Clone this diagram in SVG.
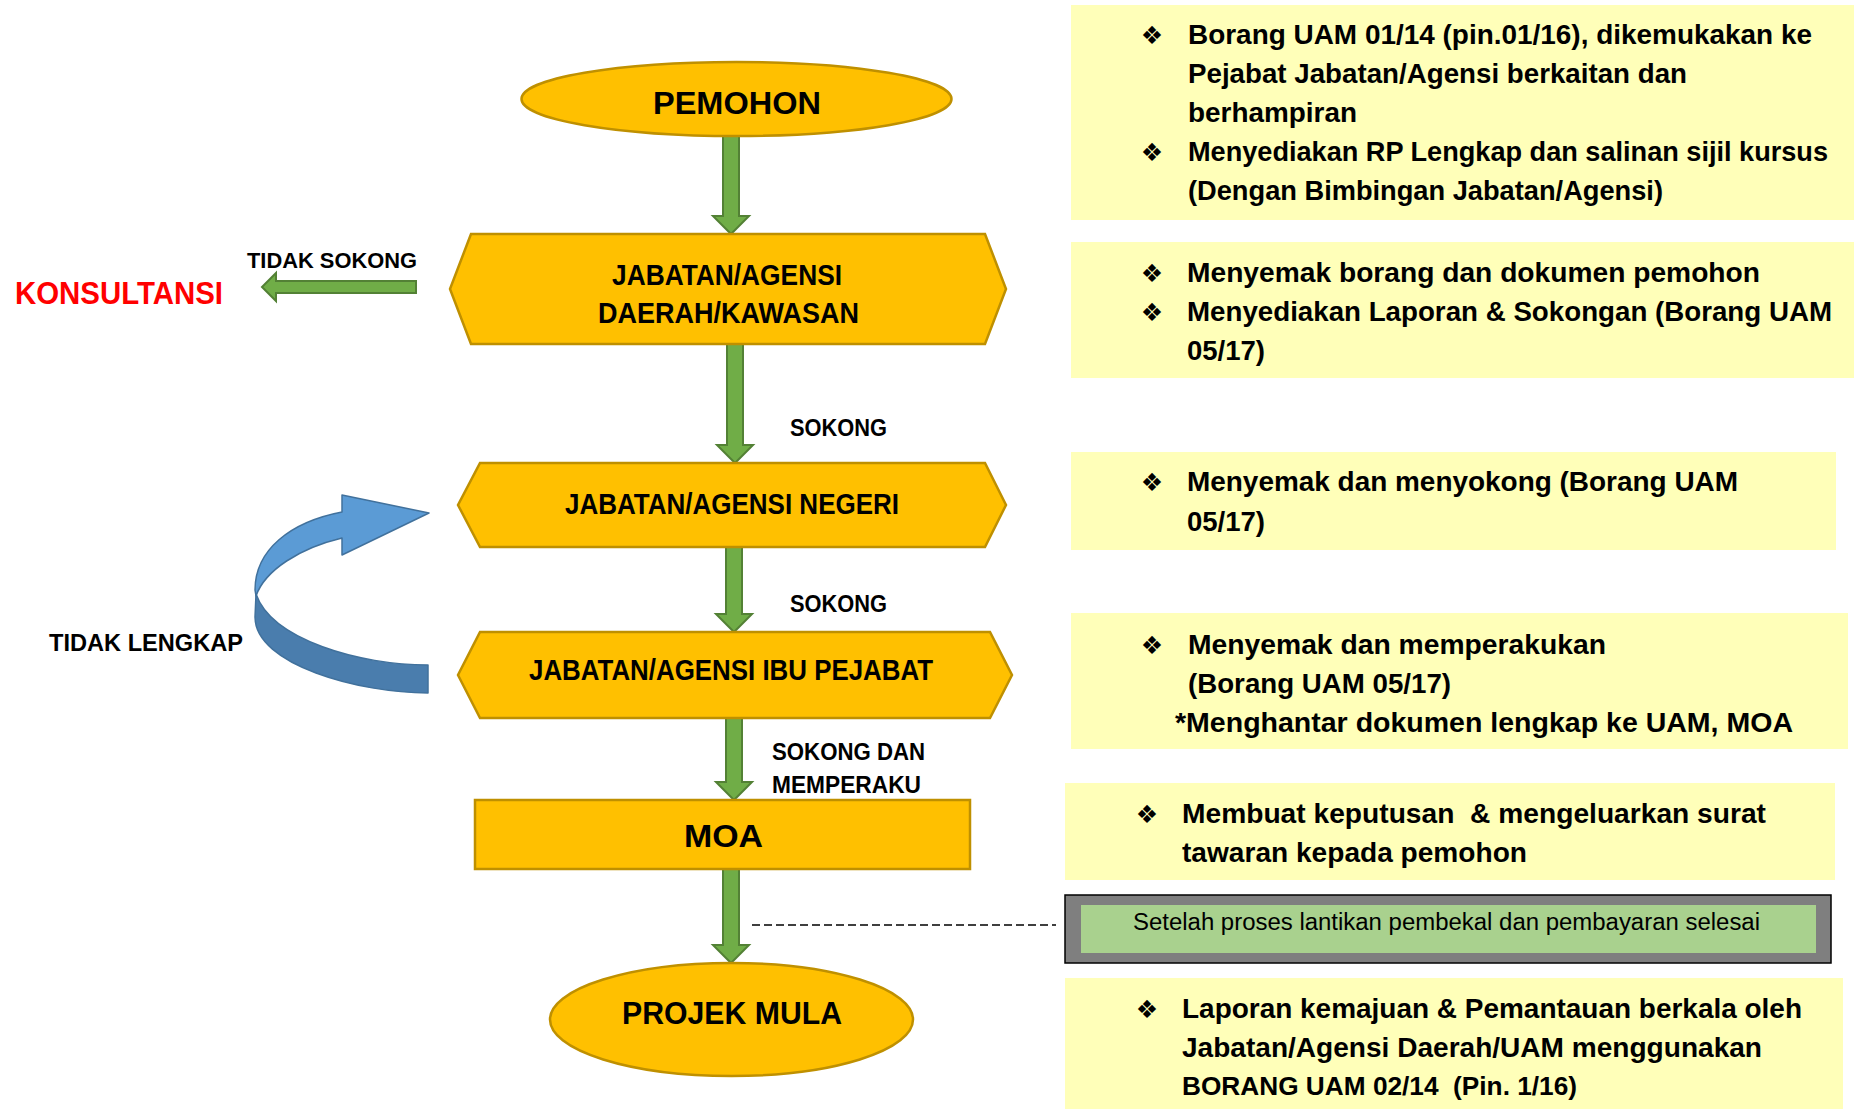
<svg xmlns="http://www.w3.org/2000/svg" width="1854" height="1109" viewBox="0 0 1854 1109">
<style>
.node{fill:#FFC000;stroke:#BF9000;stroke-width:2.5}
.arr{fill:#70AD47;stroke:#538135;stroke-width:2}
.note{fill:#FFFFB9}
.t{font-family:"Liberation Sans",Arial,sans-serif;font-weight:bold;fill:#000}
.r{font-family:"Liberation Sans",Arial,sans-serif;font-weight:bold;font-size:28px;fill:#000}
.bul{font-family:"DejaVu Sans",sans-serif;font-size:25px;fill:#000;text-anchor:middle}
</style>
<rect width="1854" height="1109" fill="#FFFFFF"/>

<g id="connectors">
  <path class="arr" d="M723 136 L739 136 L739 216 L749 216 L731 234 L713 216 L723 216 Z"/>
  <path class="arr" d="M727 344 L743 344 L743 445 L753 445 L735 463 L717 445 L727 445 Z"/>
  <path class="arr" d="M726 547 L742 547 L742 614 L752 614 L734 632 L716 614 L726 614 Z"/>
  <path class="arr" d="M726 718 L742 718 L742 782 L752 782 L734 800 L716 782 L726 782 Z"/>
  <path class="arr" d="M723 869 L739 869 L739 945 L749 945 L731 963 L713 945 L723 945 Z"/>
  <path class="arr" d="M416 281 L416 293 L276 293 L276 301 L262 287 L276 273 L276 281 Z"/>
  <line x1="752" y1="925" x2="1056" y2="925" stroke="#000" stroke-width="1.5" stroke-dasharray="8 4"/>
  <g id="loop-arrow" stroke="#41719C" stroke-width="1.5" stroke-linejoin="round">
    <path fill="#4A7DAD" d="M256 594 C272 640 360 665 428 665 L428 693 C360 693 255 665 255 617 Z"/>
    <path fill="#5B9BD5" d="M342 495 L429 513 L342 555 L342 538 C300 548 265 570 256 596 L255 590 C255 550 290 522 342 512 Z"/>
  </g>
  <text class="t" x="790" y="436" font-size="23" textLength="97" lengthAdjust="spacingAndGlyphs">SOKONG</text>
  <text class="t" x="790" y="612" font-size="23" textLength="97" lengthAdjust="spacingAndGlyphs">SOKONG</text>
  <text class="t" x="772" y="760" font-size="23" textLength="153" lengthAdjust="spacingAndGlyphs">SOKONG DAN</text>
  <text class="t" x="772" y="793" font-size="23" textLength="149" lengthAdjust="spacingAndGlyphs">MEMPERAKU</text>
  <text class="t" x="247" y="268" font-size="22" textLength="170" lengthAdjust="spacingAndGlyphs">TIDAK SOKONG</text>
  <text class="t" x="49" y="651" font-size="24" textLength="194" lengthAdjust="spacingAndGlyphs">TIDAK LENGKAP</text>
</g>

<g id="konsultansi">
  <text class="t" x="15" y="304" font-size="32" style="fill:#FF0000" textLength="208" lengthAdjust="spacingAndGlyphs">KONSULTANSI</text>
</g>

<g id="pemohon">
  <ellipse class="node" cx="736.5" cy="99" rx="215" ry="37"/>
  <text class="t" x="653" y="114" font-size="32" textLength="168" lengthAdjust="spacingAndGlyphs">PEMOHON</text>
</g>

<g id="jabatan-daerah">
  <path class="node" d="M471 234 L985 234 L1006 289 L985 344 L471 344 L450 289 Z"/>
  <text class="t" x="612" y="285" font-size="29" textLength="230" lengthAdjust="spacingAndGlyphs">JABATAN/AGENSI</text>
  <text class="t" x="598" y="323" font-size="29" textLength="261" lengthAdjust="spacingAndGlyphs">DAERAH/KAWASAN</text>
</g>

<g id="jabatan-negeri">
  <path class="node" d="M480 463 L985 463 L1006 505 L985 547 L480 547 L458 505 Z"/>
  <text class="t" x="565" y="514" font-size="29" textLength="334" lengthAdjust="spacingAndGlyphs">JABATAN/AGENSI NEGERI</text>
</g>

<g id="jabatan-ibu-pejabat">
  <path class="node" d="M480 632 L990 632 L1012 675 L990 718 L480 718 L458 675 Z"/>
  <text class="t" x="529" y="680" font-size="29" textLength="404" lengthAdjust="spacingAndGlyphs">JABATAN/AGENSI IBU PEJABAT</text>
</g>

<g id="moa">
  <rect class="node" x="475" y="800" width="495" height="69"/>
  <text class="t" x="684" y="847" font-size="32" textLength="79" lengthAdjust="spacingAndGlyphs">MOA</text>
</g>

<g id="projek-mula">
  <ellipse class="node" cx="731.5" cy="1019.5" rx="181.5" ry="56.5"/>
  <text class="t" x="622" y="1024" font-size="32" textLength="220" lengthAdjust="spacingAndGlyphs">PROJEK MULA</text>
</g>

<g id="note-1">
  <rect class="note" x="1071" y="5" width="783" height="215"/>
  <text class="bul" x="1152" y="44">❖</text>
  <text class="r" x="1188" y="44" textLength="624" lengthAdjust="spacingAndGlyphs">Borang UAM 01/14 (pin.01/16), dikemukakan ke</text>
  <text class="r" x="1188" y="83" textLength="499" lengthAdjust="spacingAndGlyphs">Pejabat Jabatan/Agensi berkaitan dan</text>
  <text class="r" x="1188" y="122" textLength="169" lengthAdjust="spacingAndGlyphs">berhampiran</text>
  <text class="bul" x="1152" y="161">❖</text>
  <text class="r" x="1188" y="161" textLength="640" lengthAdjust="spacingAndGlyphs">Menyediakan RP Lengkap dan salinan sijil kursus</text>
  <text class="r" x="1188" y="200" textLength="475" lengthAdjust="spacingAndGlyphs">(Dengan Bimbingan Jabatan/Agensi)</text>
</g>

<g id="note-2">
  <rect class="note" x="1071" y="242" width="783" height="136"/>
  <text class="bul" x="1152" y="282">❖</text>
  <text class="r" x="1187" y="282" textLength="573" lengthAdjust="spacingAndGlyphs">Menyemak borang dan dokumen pemohon</text>
  <text class="bul" x="1152" y="321">❖</text>
  <text class="r" x="1187" y="321" textLength="645" lengthAdjust="spacingAndGlyphs">Menyediakan Laporan &amp; Sokongan (Borang UAM</text>
  <text class="r" x="1187" y="360" textLength="78" lengthAdjust="spacingAndGlyphs">05/17)</text>
</g>

<g id="note-3">
  <rect class="note" x="1071" y="452" width="765" height="98"/>
  <text class="bul" x="1152" y="491">❖</text>
  <text class="r" x="1187" y="491" textLength="551" lengthAdjust="spacingAndGlyphs">Menyemak dan menyokong (Borang UAM</text>
  <text class="r" x="1187" y="531" textLength="78" lengthAdjust="spacingAndGlyphs">05/17)</text>
</g>

<g id="note-4">
  <rect class="note" x="1071" y="613" width="777" height="136"/>
  <text class="bul" x="1152" y="654">❖</text>
  <text class="r" x="1188" y="654" textLength="418" lengthAdjust="spacingAndGlyphs">Menyemak dan memperakukan</text>
  <text class="r" x="1188" y="693" textLength="263" lengthAdjust="spacingAndGlyphs">(Borang UAM 05/17)</text>
  <text class="r" x="1175" y="732" textLength="618" lengthAdjust="spacingAndGlyphs">*Menghantar dokumen lengkap ke UAM, MOA</text>
</g>

<g id="note-5">
  <rect class="note" x="1065" y="783" width="770" height="97"/>
  <text class="bul" x="1147" y="823">❖</text>
  <text class="r" x="1182" y="823" textLength="584" lengthAdjust="spacingAndGlyphs" xml:space="preserve">Membuat keputusan  &amp; mengeluarkan surat</text>
  <text class="r" x="1182" y="862" textLength="345" lengthAdjust="spacingAndGlyphs">tawaran kepada pemohon</text>
</g>

<g id="note-setelah">
  <rect x="1065" y="895" width="766" height="68" fill="#7F7F7F" stroke="#000" stroke-width="1.5"/>
  <rect x="1081" y="905" width="735" height="48" fill="#A9D18E"/>
  <text x="1133" y="930" font-family="Liberation Sans, Arial, sans-serif" font-size="23" fill="#000" textLength="627" lengthAdjust="spacingAndGlyphs">Setelah proses lantikan pembekal dan pembayaran selesai</text>
</g>

<g id="note-6">
  <rect class="note" x="1065" y="978" width="778" height="131"/>
  <text class="bul" x="1147" y="1018">❖</text>
  <text class="r" x="1182" y="1018" textLength="620" lengthAdjust="spacingAndGlyphs">Laporan kemajuan &amp; Pemantauan berkala oleh</text>
  <text class="r" x="1182" y="1057" textLength="580" lengthAdjust="spacingAndGlyphs">Jabatan/Agensi Daerah/UAM menggunakan</text>
  <text class="r" x="1182" y="1095" style="font-size:26px" textLength="395" lengthAdjust="spacingAndGlyphs" xml:space="preserve">BORANG UAM 02/14  (Pin. 1/16)</text>
</g>
</svg>
